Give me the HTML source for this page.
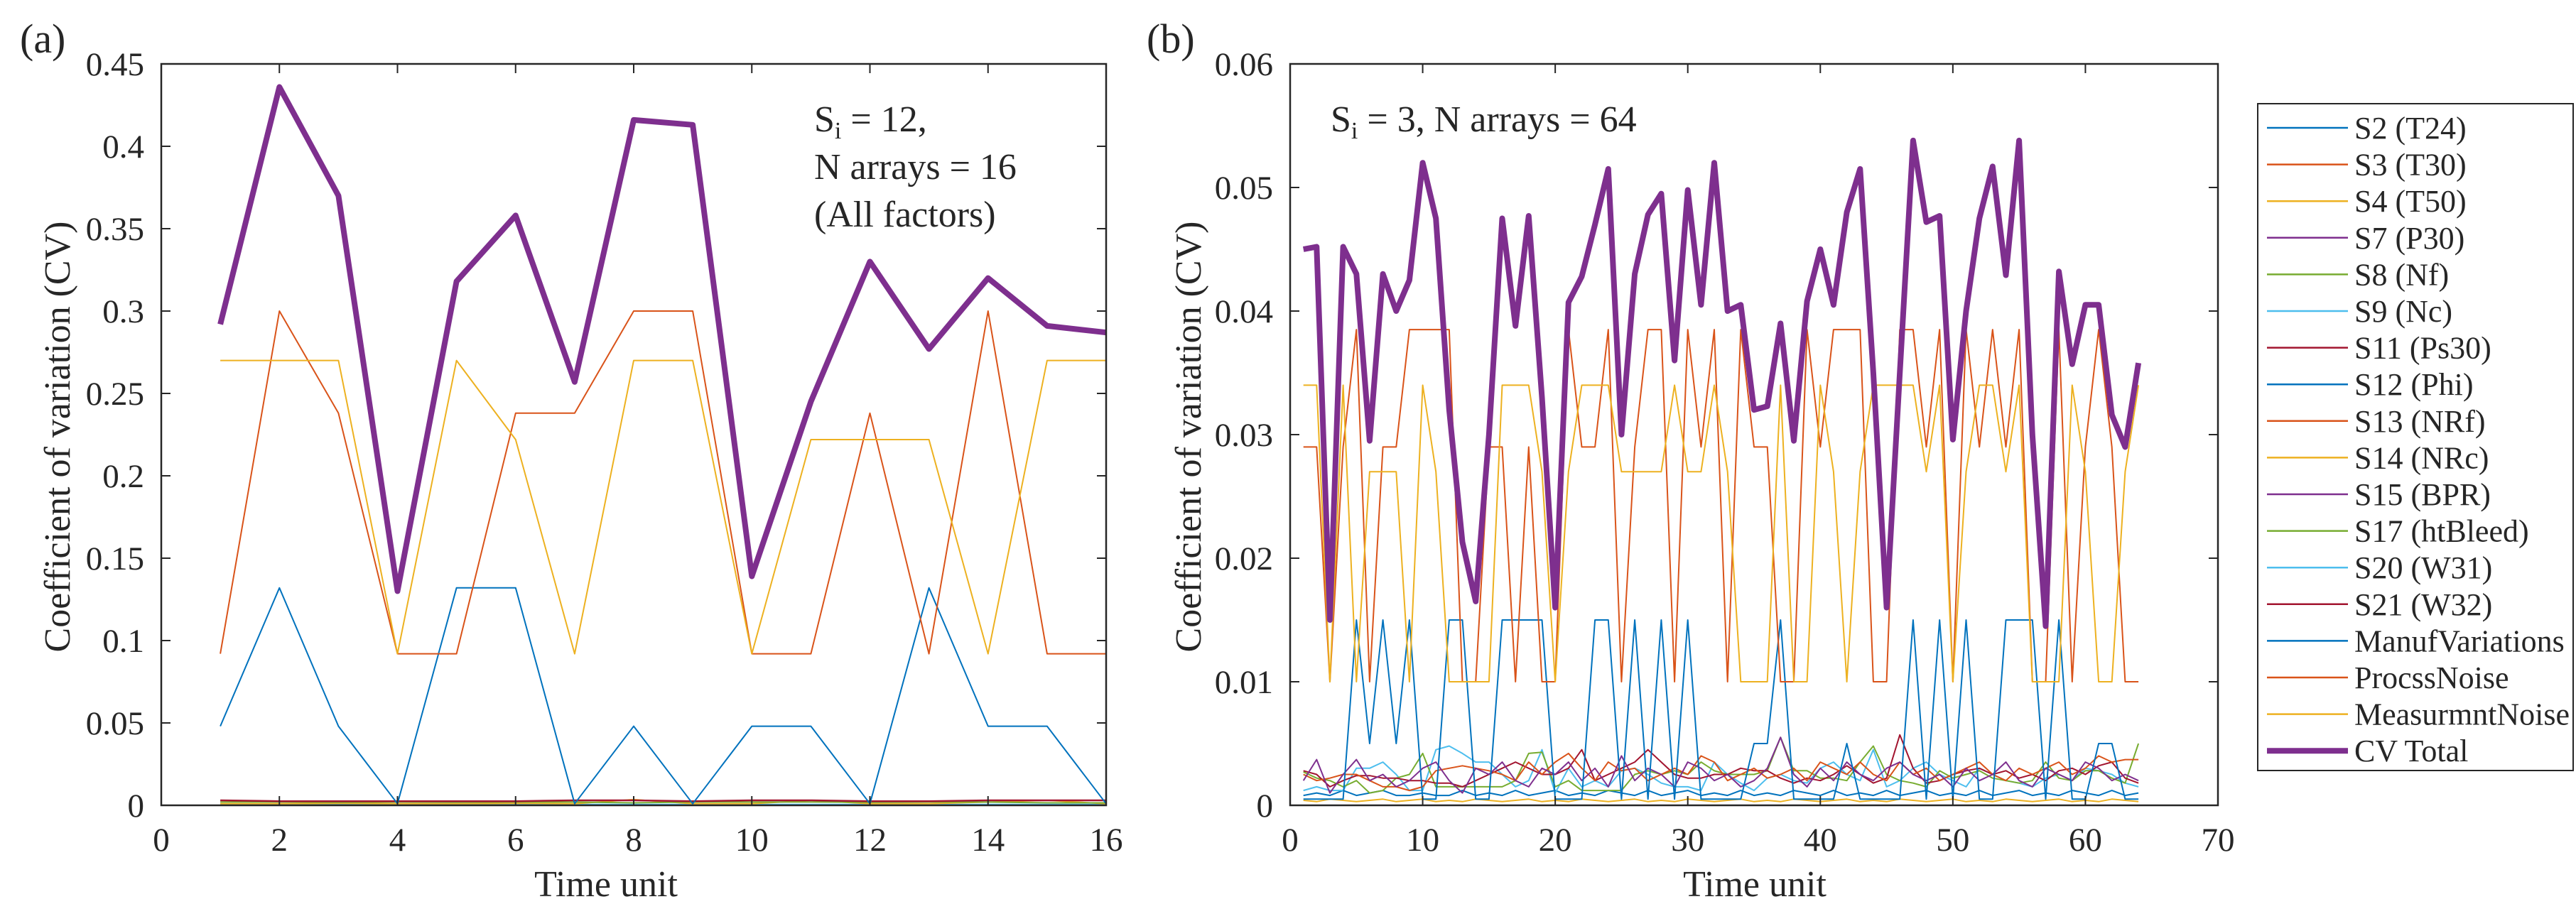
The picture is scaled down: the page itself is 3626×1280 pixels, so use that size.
<!DOCTYPE html>
<html><head><meta charset="utf-8"><style>
html,body{margin:0;padding:0;background:#fff}
svg{display:block;font-family:"Liberation Serif","Times New Roman",serif}
text{font-family:"Liberation Serif","Times New Roman",serif;fill:#262626}
</style></head><body>
<svg id="fig" width="3626" height="1280" xmlns="http://www.w3.org/2000/svg" font-family="Liberation Serif, serif">
<text x="28" y="74" font-size="58">(a)</text>
<text x="1614" y="74" font-size="58">(b)</text>
<g id="pa"></g>
<g id="pb"></g>
<g id="legend"></g>
</svg>
<script>
// ---------- Panel A data ----------
const timeA = [1,2,3,4,5,6,7,8,9,10,11,12,13,14,15,16];
const cvTotalA = [0.292,0.436,0.370,0.130,0.318,0.358,0.257,0.416,0.413,0.139,0.245,0.330,0.277,0.320,0.291,0.287];
const procssA = [0.092,0.300,0.238,0.092,0.092,0.238,0.238,0.300,0.300,0.092,0.092,0.238,0.092,0.300,0.092,0.092];
const measA = [0.270,0.270,0.270,0.092,0.270,0.222,0.092,0.270,0.270,0.092,0.222,0.222,0.222,0.092,0.270,0.270];
const manufA = [0.048,0.132,0.048,0.001,0.132,0.132,0.001,0.048,0.001,0.048,0.048,0.001,0.132,0.048,0.048,0.001];
const smallA1 = [0.003,0.0025,0.0025,0.0025,0.0025,0.0025,0.003,0.003,0.0025,0.003,0.003,0.0025,0.0025,0.003,0.003,0.003];
const smallA2 = [0.002,0.002,0.0018,0.002,0.0018,0.002,0.002,0.0015,0.002,0.002,0.002,0.0018,0.002,0.002,0.0015,0.0015];
const smallA3 = [0.001,0.001,0.0012,0.001,0.001,0.0012,0.001,0.0035,0.001,0.001,0.003,0.001,0.001,0.002,0.003,0.001];
const smallA4 = [0.0005,0.0005,0.0005,0.0006,0.0005,0.0005,0.0005,0.0005,0.0005,0.0005,0.0005,0.0005,0.0005,0.0005,0.0005,0.0005];
const xTicksA = [0,2,4,6,8,10,12,14,16];
const yTicksA = [0,0.05,0.1,0.15,0.2,0.25,0.3,0.35,0.4,0.45];
const yTickLabelsA = ["0","0.05","0.1","0.15","0.2","0.25","0.3","0.35","0.4","0.45"];

// ---------- Panel B data ----------
const cvTotalB = [0.045,0.0452,0.015,0.0452,0.043,0.0295,0.043,0.040,0.0425,0.052,0.0475,0.032,0.0213,0.0165,0.030,0.0475,0.0388,0.0477,0.033,0.016,0.0407,0.0428,0.047,0.0515,0.030,0.043,0.0478,0.0495,0.036,0.0498,0.0405,0.052,0.040,0.0405,0.032,0.0323,0.039,0.0295,0.0408,0.045,0.0405,0.048,0.0515,0.035,0.016,0.035,0.0538,0.0472,0.0477,0.0296,0.040,0.0475,0.0517,0.0429,0.0538,0.030,0.0145,0.0432,0.0357,0.0405,0.0405,0.0316,0.029,0.0358];
const procssB = [0.029,0.029,0.01,0.029,0.0385,0.01,0.029,0.029,0.0385,0.0385,0.0385,0.0385,0.01,0.01,0.029,0.029,0.01,0.029,0.01,0.01,0.0385,0.029,0.029,0.0385,0.01,0.029,0.0385,0.0385,0.01,0.0385,0.029,0.0385,0.01,0.0385,0.029,0.029,0.01,0.01,0.0385,0.029,0.0385,0.0385,0.0385,0.01,0.01,0.0385,0.0385,0.029,0.0385,0.01,0.0385,0.029,0.0385,0.029,0.0385,0.01,0.01,0.0385,0.01,0.029,0.0385,0.029,0.01,0.01];
const measB = [0.034,0.034,0.01,0.034,0.01,0.027,0.027,0.027,0.01,0.034,0.027,0.01,0.01,0.01,0.01,0.034,0.034,0.034,0.027,0.01,0.027,0.034,0.034,0.034,0.027,0.027,0.027,0.027,0.034,0.027,0.027,0.034,0.027,0.01,0.01,0.01,0.034,0.01,0.01,0.034,0.027,0.01,0.027,0.034,0.034,0.034,0.034,0.027,0.034,0.01,0.027,0.034,0.034,0.027,0.034,0.01,0.01,0.01,0.034,0.027,0.01,0.01,0.027,0.034];
const manufB = [0.0005,0.0005,0.0005,0.0005,0.015,0.005,0.015,0.005,0.015,0.0005,0.0005,0.015,0.015,0.0005,0.0005,0.015,0.015,0.015,0.015,0.0005,0.0005,0.0005,0.015,0.015,0.0005,0.015,0.0005,0.015,0.0005,0.015,0.0005,0.0005,0.0005,0.0005,0.005,0.005,0.015,0.0005,0.0005,0.0005,0.0005,0.005,0.0005,0.0005,0.0005,0.0005,0.015,0.0005,0.015,0.0005,0.015,0.0005,0.0005,0.015,0.015,0.015,0.0005,0.015,0.0005,0.0005,0.005,0.005,0.0005,0.0005];
const smallB1 = [0.002,0.0037,0.001,0.0025,0.0037,0.002,0.0025,0.0015,0.002,0.003,0.0035,0.002,0.001,0.003,0.0025,0.0035,0.002,0.0015,0.003,0.0025,0.0035,0.002,0.003,0.0015,0.004,0.002,0.003,0.0025,0.0015,0.0035,0.003,0.002,0.0025,0.0015,0.002,0.003,0.0055,0.0025,0.0015,0.003,0.002,0.0035,0.0025,0.002,0.003,0.0035,0.0025,0.002,0.0025,0.0015,0.003,0.002,0.0025,0.0035,0.002,0.0015,0.003,0.0025,0.002,0.0035,0.003,0.002,0.0025,0.002];
const smallB2 = [0.0025,0.002,0.0022,0.0025,0.0025,0.002,0.0015,0.0015,0.0012,0.0015,0.0028,0.003,0.0032,0.003,0.0028,0.0025,0.002,0.0035,0.0025,0.0035,0.0042,0.003,0.002,0.0035,0.0028,0.003,0.002,0.0025,0.003,0.0025,0.004,0.0035,0.002,0.0025,0.003,0.0022,0.0025,0.003,0.002,0.0035,0.003,0.0025,0.0035,0.0025,0.002,0.0035,0.0025,0.003,0.002,0.0025,0.003,0.0035,0.0025,0.002,0.003,0.0025,0.003,0.0035,0.0025,0.003,0.004,0.0035,0.0037,0.0037];
const smallB3 = [0.0028,0.0025,0.0015,0.002,0.0024,0.0024,0.0022,0.0022,0.002,0.002,0.0018,0.0018,0.0015,0.002,0.0025,0.003,0.0035,0.003,0.0025,0.0025,0.003,0.0045,0.002,0.0025,0.003,0.0035,0.0045,0.0035,0.0025,0.0022,0.0022,0.0025,0.0025,0.003,0.0028,0.0028,0.0022,0.0018,0.0022,0.002,0.0025,0.0032,0.0025,0.0018,0.0022,0.0057,0.003,0.0018,0.002,0.0025,0.0028,0.003,0.0025,0.0028,0.0022,0.0025,0.002,0.0028,0.003,0.0025,0.0032,0.0035,0.0022,0.0018];
const smallB4 = [0.0027,0.0022,0.002,0.0015,0.002,0.001,0.0012,0.0022,0.0025,0.0042,0.0015,0.0015,0.0015,0.0015,0.0015,0.0015,0.002,0.0042,0.0043,0.0015,0.002,0.0012,0.0012,0.0012,0.0012,0.0025,0.0028,0.0025,0.0028,0.0025,0.0035,0.0028,0.0025,0.0025,0.0025,0.0028,0.0055,0.0028,0.0028,0.0022,0.0022,0.002,0.0035,0.0048,0.0025,0.002,0.0018,0.0015,0.0028,0.0022,0.0025,0.0028,0.0022,0.002,0.0018,0.002,0.0035,0.0022,0.002,0.0028,0.0028,0.0022,0.0018,0.005];
const smallB5 = [0.0012,0.0015,0.0012,0.0012,0.003,0.003,0.0035,0.0025,0.0012,0.0012,0.0045,0.0048,0.0042,0.0035,0.0035,0.0025,0.0015,0.002,0.0045,0.001,0.003,0.0015,0.002,0.0015,0.0028,0.003,0.0025,0.0018,0.0015,0.0015,0.0012,0.0035,0.0025,0.0018,0.0012,0.0022,0.0025,0.002,0.0018,0.003,0.0035,0.0025,0.002,0.0045,0.0015,0.002,0.003,0.0035,0.0025,0.002,0.0015,0.003,0.0025,0.002,0.0018,0.0015,0.0022,0.0025,0.002,0.003,0.0028,0.0025,0.0018,0.0015];
const smallB6 = [0.0008,0.001,0.0008,0.0012,0.0008,0.001,0.0012,0.0008,0.0008,0.001,0.0008,0.0008,0.0012,0.0008,0.001,0.0008,0.0012,0.0008,0.001,0.0012,0.0008,0.001,0.0008,0.0012,0.001,0.0008,0.0012,0.0008,0.001,0.0012,0.0008,0.001,0.0008,0.0012,0.0008,0.001,0.0008,0.0012,0.001,0.0008,0.0012,0.0008,0.001,0.0008,0.0012,0.0008,0.001,0.0012,0.0008,0.001,0.0008,0.0012,0.0008,0.001,0.0012,0.0008,0.001,0.0008,0.0012,0.001,0.0008,0.0012,0.0008,0.001];
const smallB7 = [0.0004,0.0003,0.0005,0.0004,0.0003,0.0004,0.0005,0.0003,0.0004,0.0005,0.0003,0.0004,0.0003,0.0005,0.0004,0.0003,0.0004,0.0005,0.0003,0.0004,0.0003,0.0005,0.0004,0.0003,0.0004,0.0005,0.0003,0.0004,0.0003,0.0005,0.0004,0.0003,0.0004,0.0005,0.0003,0.0004,0.0003,0.0005,0.0004,0.0003,0.0004,0.0005,0.0003,0.0004,0.0003,0.0005,0.0004,0.0003,0.0004,0.0005,0.0003,0.0004,0.0003,0.0005,0.0004,0.0003,0.0004,0.0005,0.0003,0.0004,0.0003,0.0005,0.0004,0.0003];
const xTicksB = [0,10,20,30,40,50,60,70];
const yTicksB = [0,0.01,0.02,0.03,0.04,0.05,0.06];
const yTickLabelsB = ["0","0.01","0.02","0.03","0.04","0.05","0.06"];

const legendLabels = ["S2 (T24)","S3 (T30)","S4 (T50)","S7 (P30)","S8 (Nf)","S9 (Nc)","S11 (Ps30)","S12 (Phi)","S13 (NRf)","S14 (NRc)","S15 (BPR)","S17 (htBleed)","S20 (W31)","S21 (W32)","ManufVariations","ProcssNoise","MeasurmntNoise","CV Total"];

const C = ["#0072BD","#D95319","#EDB120","#7E2F8E","#77AC30","#4DBEEE","#A2142F"];
const NS = "http://www.w3.org/2000/svg";
function mk(tag, attrs, parent){const e=document.createElementNS(NS,tag);for(const k in attrs)e.setAttribute(k,attrs[k]);parent.appendChild(e);return e;}

function panel(g, P, xTicks, yTicks, yLabels, xmax, ymax, series, prefix){
  const sx = v => P.l + v/xmax*(P.r-P.l);
  const sy = v => P.b - v/ymax*(P.b-P.t);
  series.forEach(s=>{
    const d = s.xs.slice(0,s.ys.length).map((x,i)=>(i?"L":"M")+sx(x).toFixed(1)+","+sy(s.ys[i]).toFixed(1)).join("");
    const p = mk("path",{d:d,fill:"none",stroke:s.c,"stroke-width":s.w,"stroke-linejoin":"round"},g);
    
    
  });
  const box = mk("rect",{x:P.l,y:P.t,width:P.r-P.l,height:P.b-P.t,fill:"none",stroke:"#262626","stroke-width":2.5},g);
  
  
  xTicks.forEach(v=>{
    const x=sx(v);
    mk("line",{x1:x,y1:P.b,x2:x,y2:P.b-13,stroke:"#262626","stroke-width":2},g);
    mk("line",{x1:x,y1:P.t,x2:x,y2:P.t+13,stroke:"#262626","stroke-width":2},g);
    const t=mk("text",{x:x,y:P.b+64,"font-size":47,"text-anchor":"middle","font-family":"Liberation Serif, serif"},g);
    t.textContent=v;
    
    
  });
  yTicks.forEach((v,i)=>{
    const y=sy(v);
    mk("line",{x1:P.l,y1:y,x2:P.l+13,y2:y,stroke:"#262626","stroke-width":2},g);
    mk("line",{x1:P.r,y1:y,x2:P.r-13,y2:y,stroke:"#262626","stroke-width":2},g);
    const t=mk("text",{x:P.l-24,y:y+16,"font-size":47,"text-anchor":"end","font-family":"Liberation Serif, serif"},g);
    t.textContent=yLabels[i];
    
    
  });
}

const PA={l:227,r:1557,t:90,b:1134};
const PB={l:1816,r:3122,t:90,b:1134};
const idxB = cvTotalB.map((_,i)=>i+1);
const ga=document.getElementById("pa"), gb=document.getElementById("pb");

panel(ga,PA,xTicksA,yTicksA,yTickLabelsA,16,0.45,[
  {xs:timeA,ys:smallA4,c:C[5],w:2,name:"a-small-series-4"},
  {xs:timeA,ys:smallA3,c:C[2],w:2,name:"a-small-series-3"},
  {xs:timeA,ys:smallA2,c:C[4],w:2,name:"a-small-series-2"},
  {xs:timeA,ys:smallA1,c:C[6],w:2.5,name:"a-small-series-1"},
  {xs:timeA,ys:manufA,c:C[0],w:2,name:"a-manuf-variations-line"},
  {xs:timeA,ys:procssA,c:C[1],w:2,name:"a-procss-noise-line"},
  {xs:timeA,ys:measA,c:C[2],w:2,name:"a-measurmnt-noise-line"},
  {xs:timeA,ys:cvTotalA,c:C[3],w:8,name:"a-cv-total-line"}
],"a");

panel(gb,PB,xTicksB,yTicksB,yTickLabelsB,70,0.06,[
  {xs:idxB,ys:smallB7,c:C[2],w:2,name:"b-small-series-7"},
  {xs:idxB,ys:smallB6,c:C[0],w:2,name:"b-small-series-6"},
  {xs:idxB,ys:smallB5,c:C[5],w:2,name:"b-small-series-5"},
  {xs:idxB,ys:smallB4,c:C[4],w:2,name:"b-small-series-4"},
  {xs:idxB,ys:smallB3,c:C[6],w:2,name:"b-small-series-3"},
  {xs:idxB,ys:smallB2,c:C[1],w:2,name:"b-small-series-2"},
  {xs:idxB,ys:smallB1,c:C[3],w:2,name:"b-small-series-1"},
  {xs:idxB,ys:manufB,c:C[0],w:2,name:"b-manuf-variations-line"},
  {xs:idxB,ys:procssB,c:C[1],w:2,name:"b-procss-noise-line"},
  {xs:idxB,ys:measB,c:C[2],w:2,name:"b-measurmnt-noise-line"},
  {xs:idxB,ys:cvTotalB,c:C[3],w:8,name:"b-cv-total-line"}
],"b");

const lg=document.getElementById("legend");
const lbox=mk("rect",{x:3178,y:146,width:444,height:939,fill:"#fff",stroke:"#262626","stroke-width":2},lg);


legendLabels.forEach((lab,i)=>{
  const y=180+i*51.6;
  const last = i===legendLabels.length-1;
  const ln=mk("line",{x1:3191,y1:y,x2:3305,y2:y,stroke:last?C[3]:C[i%7],"stroke-width":last?8:2.5},lg);
  
  
  const t=mk("text",{x:3314,y:y+15,"font-size":44,"font-family":"Liberation Serif, serif"},lg);
  t.textContent=lab;
  
  
});
</script>
<script>
const fig=document.getElementById("fig");
function txt(attrs, html, name){
  const e=document.createElementNS("http://www.w3.org/2000/svg","text");
  for(const k in attrs)e.setAttribute(k,attrs[k]);
  e.setAttribute("font-family","Liberation Serif, serif");
  e.innerHTML=html;
  
  
  fig.appendChild(e);
}
txt({x:853,y:1262,"font-size":52,"text-anchor":"middle"},"Time unit","a-x-axis-title");
txt({x:2470,y:1262,"font-size":52,"text-anchor":"middle"},"Time unit","b-x-axis-title");
txt({x:0,y:0,"font-size":52,"text-anchor":"middle",transform:"translate(98,615) rotate(-90)"},"Coefficient of variation (CV)","a-y-axis-title");
txt({x:0,y:0,"font-size":52,"text-anchor":"middle",transform:"translate(1690,615) rotate(-90)"},"Coefficient of variation (CV)","b-y-axis-title");
txt({x:1146,y:185,"font-size":52},'S<tspan font-size="34" dy="10">i</tspan><tspan dy="-10"> = 12,</tspan>',"a-annotation-line1");
txt({x:1146,y:252,"font-size":52},"N arrays  = 16","a-annotation-line2");
txt({x:1146,y:319,"font-size":52},"(All factors)","a-annotation-line3");
txt({x:1873,y:185,"font-size":52},'S<tspan font-size="34" dy="10">i</tspan><tspan dy="-10"> = 3, N arrays  = 64</tspan>',"b-annotation");
</script>
</body></html>
